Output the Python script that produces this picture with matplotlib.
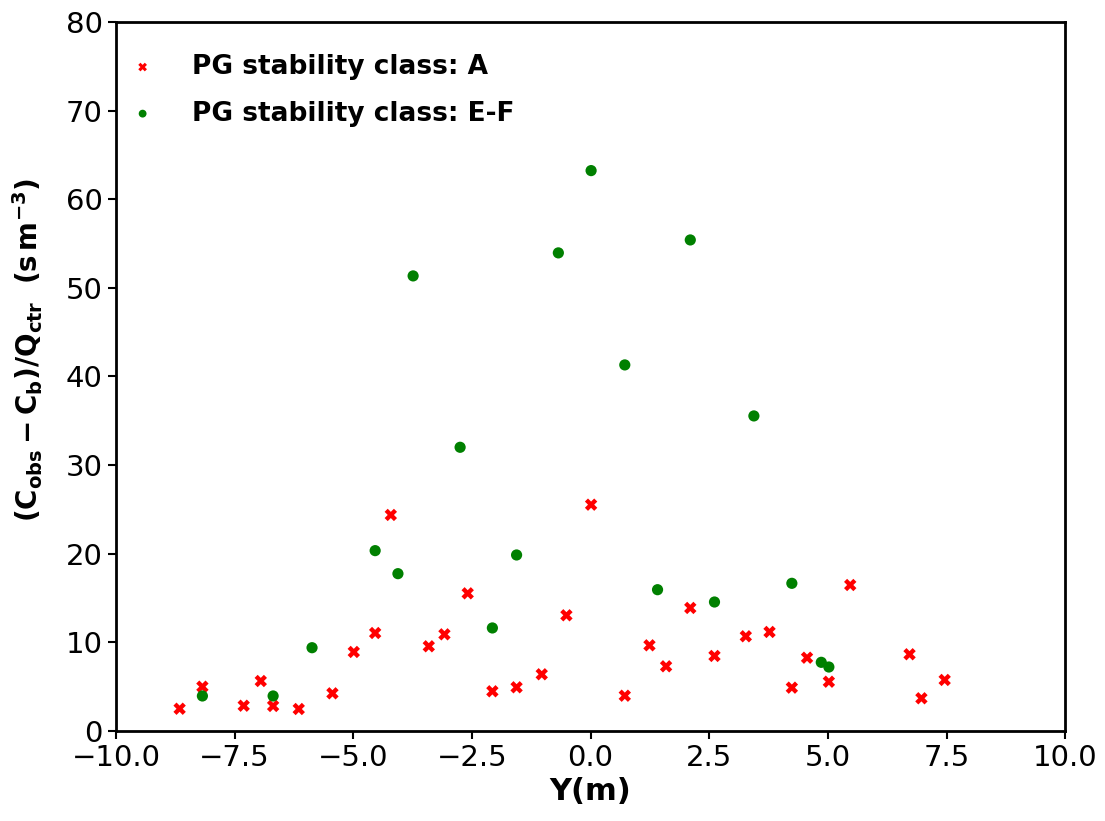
import matplotlib
matplotlib.use("Agg")
import matplotlib.pyplot as plt

# PG stability class A
a_x = [-8.66, -8.18, -7.31, -6.95, -6.69, -6.15, -5.44, -4.99, -4.54, -4.21,
       -3.41, -3.08, -2.59, -2.07, -1.56, -1.03, -0.51, 0.01,
       0.72, 1.24, 1.59, 2.10, 2.61, 3.27, 3.77, 4.24, 4.56, 5.02, 5.47,
       6.72, 6.97, 7.46]
a_y = [2.48, 4.97, 2.82, 5.61, 2.79, 2.45, 4.22, 8.89, 11.03, 24.36,
       9.53, 10.88, 15.51, 4.45, 4.90, 6.37, 13.03, 25.52,
       3.95, 9.64, 7.27, 13.86, 8.44, 10.66, 11.15, 4.86, 8.24, 5.53, 16.45,
       8.63, 3.66, 5.73]

# PG stability class E-F
ef_x = [-8.18, -6.69, -5.87, -4.54, -4.06, -3.74, -2.75, -2.07, -1.56, -0.68,
        0.01, 0.72, 1.41, 2.10, 2.61, 3.44, 4.24, 4.86, 5.02]
ef_y = [3.92, 3.92, 9.37, 20.33, 17.73, 51.35, 32.00, 11.60, 19.84, 53.95,
        63.24, 41.30, 15.92, 55.41, 14.53, 35.54, 16.64, 7.72, 7.19]

labels = ["PG stability class: A", "PG stability class: E-F"]
xticks = [-10.0, -7.5, -5.0, -2.5, 0.0, 2.5, 5.0, 7.5, 10.0]
yticks = [0, 10, 20, 30, 40, 50, 60, 70, 80]

fig = plt.figure(figsize=(11.05, 8.21), dpi=100)
ax = fig.add_axes([0.105, 0.110, 0.859, 0.863])

ax.scatter(a_x, a_y, marker="X", s=80, color="red", edgecolors="none", label=labels[0])
ax.scatter(ef_x, ef_y, marker="o", s=65, color="green", edgecolors="none", label=labels[1])

ax.set_xlim(-10, 10)
ax.set_ylim(0, 80)
ax.set_xticks(xticks)
ax.set_yticks(yticks)
ax.set_xticklabels([f"{t:.1f}".replace("-", "\u2212") for t in xticks])
ax.tick_params(labelsize=21, width=1.5, length=6)
for sp in ax.spines.values():
    sp.set_linewidth(2)

ax.set_xlabel("Y(m)", fontsize=22, fontweight="bold", labelpad=4)
ax.set_ylabel(r"$\mathbf{(C_{obs}-C_{b})/Q_{ctr}\ \ (s\,m^{-3})}$", fontsize=20)
ax.yaxis.set_label_coords(-0.075, 0.537)

leg = ax.legend(loc="upper left", frameon=False, markerscale=0.7,
                prop={"size": 19, "weight": "bold"}, bbox_to_anchor=(0.003, 0.970),
                borderaxespad=0.0, handlelength=1.0, handletextpad=1.36,
                labelspacing=0.78)

fig.savefig("out.png", dpi=100)
